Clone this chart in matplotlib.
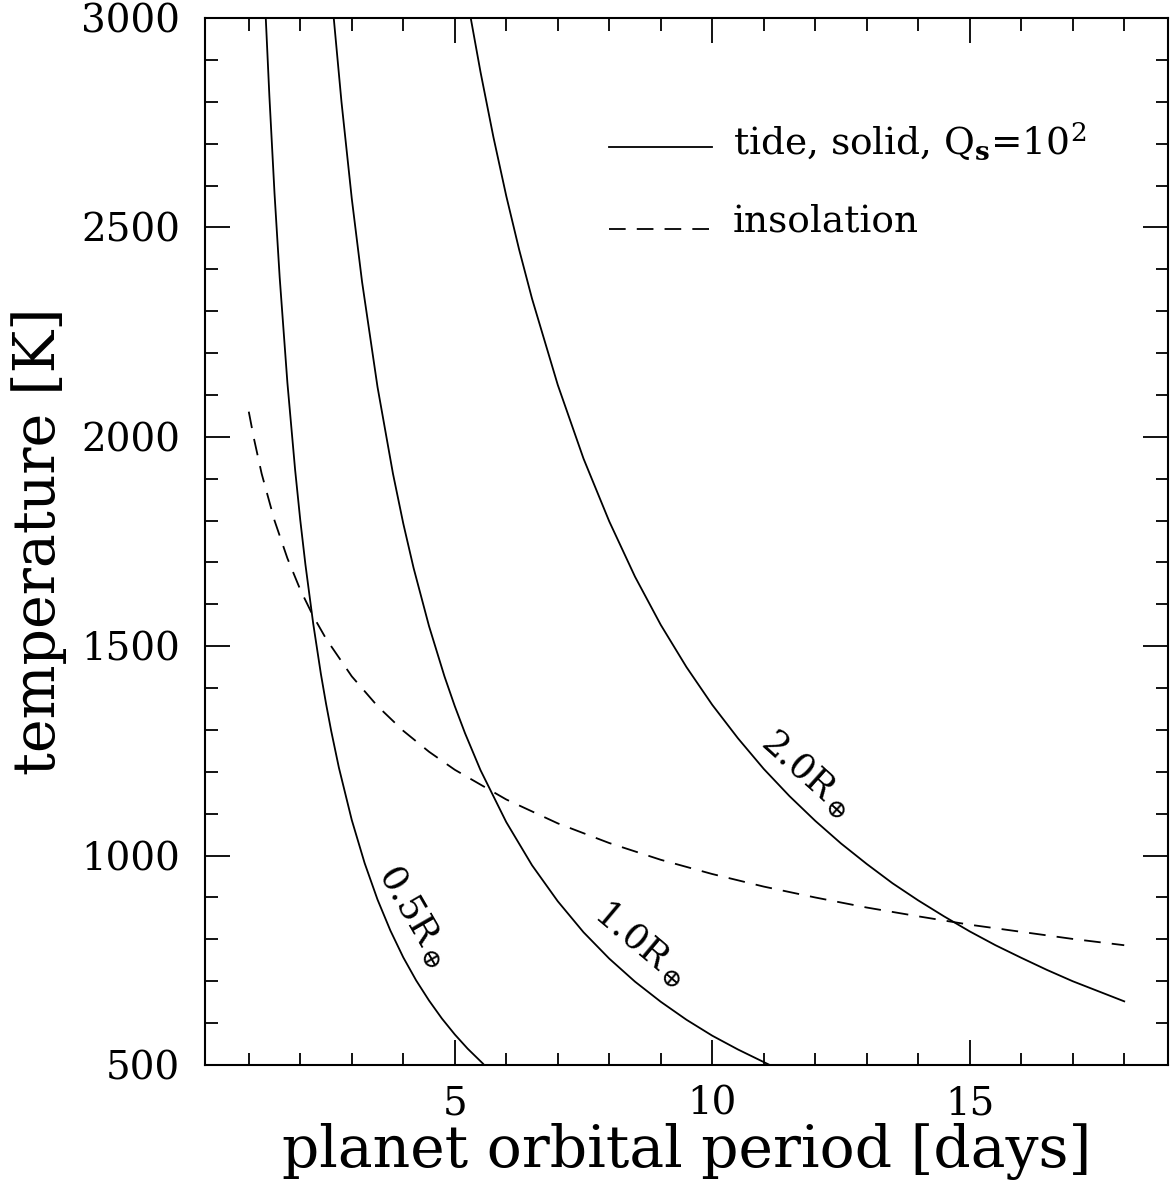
import matplotlib
matplotlib.use("Agg")
import matplotlib.pyplot as plt
from matplotlib.ticker import MultipleLocator

# tide curves (period [days], temperature [K])
p_05 = [1.33, 1.4, 1.5, 1.6, 1.75, 1.9, 2.0, 2.1, 2.25, 2.4, 2.5, 2.6, 2.75, 3.0,
        3.25, 3.5, 3.75, 4.0, 4.25, 4.5, 4.75, 5.0, 5.25, 5.55]
t_05 = [3000, 2814, 2581, 2381, 2129, 1921, 1801, 1695, 1555, 1434, 1363, 1298, 1210, 1085,
        982, 895, 821, 757, 702, 654, 611, 573, 539, 503]

p_10 = [2.65, 2.8, 3.0, 3.2, 3.5, 3.8, 4.0, 4.2, 4.5, 4.8, 5.0, 5.2, 5.5, 6.0,
        6.5, 7.0, 7.5, 8.0, 8.5, 9.0, 9.5, 10.0, 10.5, 11.1]
t_10 = [3000, 2800, 2569, 2370, 2119, 1912, 1793, 1687, 1548, 1428, 1357, 1292, 1204, 1080,
        977, 891, 817, 754, 699, 651, 608, 570, 537, 501]

p_20 = [5.31, 5.5, 5.75, 6.0, 6.25, 6.5, 7.0, 7.5, 8.0, 8.5, 9.0, 9.5, 10.0, 10.5, 11.0,
        11.5, 12.0, 12.5, 13.0, 13.5, 14.0, 14.5, 15.0, 15.5, 16.0, 16.5, 17.0, 17.5, 18.0]
t_20 = [3000, 2871, 2716, 2575, 2447, 2330, 2124, 1948, 1798, 1666, 1551, 1450, 1360, 1280, 1207,
        1142, 1083, 1029, 980, 934, 893, 855, 819, 786, 756, 727, 700, 676, 652]

# insolation curve
p_ins = [1.0, 1.1, 1.25, 1.5, 1.75, 2.0, 2.25, 2.5, 3.0, 3.5, 4.0, 4.5, 5.0, 6.0, 7.0,
         8.0, 9.0, 10.0, 11.0, 12.0, 13.0, 14.0, 15.0, 16.0, 17.0, 18.0]
t_ins = [2060, 1996, 1912, 1800, 1710, 1635, 1572, 1518, 1428, 1357, 1298, 1248, 1205, 1134, 1077,
         1030, 990, 956, 926, 900, 876, 855, 835, 818, 801, 786]

plt.rcParams['font.family'] = ['DejaVu Serif']
plt.rcParams['mathtext.fontset'] = 'dejavuserif'

fig = plt.figure(figsize=(11.7, 11.93), dpi=100)
ax = fig.add_axes([205/1170, 1 - 1065/1193, 963/1170, 1047/1193])

lw = 1.3
dash = (0, (12/lw, 8/lw))
ax.plot(p_05, t_05, color='black', lw=lw)
ax.plot(p_10, t_10, color='black', lw=lw)
ax.plot(p_20, t_20, color='black', lw=lw)
ax.plot(p_ins, t_ins, color='black', lw=lw, linestyle=dash)

# curve labels
lab = dict(fontsize=26, ha='center', va='center', rotation_mode='anchor')
ax.text(4.2, 855, r'0.5R$_\oplus$', rotation=-60, **lab)
ax.text(8.62, 790, r'1.0R$_\oplus$', rotation=-40, **lab)
ax.text(11.83, 1195, r'2.0R$_\oplus$', rotation=-42, **lab)

# legend drawn by hand
ax.plot([8, 10], [2692, 2692], color='black', lw=lw)
ax.plot([8, 10], [2496, 2496], color='black', lw=lw, linestyle=dash)
ax.text(10.4, 2705, r'tide, solid, Q$_\mathbf{s}$=10$^2$', fontsize=27, va='center')
ax.text(10.4, 2515, 'insolation', fontsize=27, va='center')

ax.set_xlim(0.15, 18.85)
ax.set_ylim(500, 3000)
ax.xaxis.set_major_locator(MultipleLocator(5))
ax.xaxis.set_minor_locator(MultipleLocator(1))
ax.yaxis.set_major_locator(MultipleLocator(500))
ax.yaxis.set_minor_locator(MultipleLocator(100))
ax.tick_params(which='both', direction='in', top=True, right=True, width=1.3)
ax.tick_params(which='major', length=18, labelsize=28)
ax.tick_params(axis='y', which='major', pad=18)
ax.tick_params(axis='x', which='major', pad=15)
ax.tick_params(which='minor', length=9)
for s in ax.spines.values():
    s.set_linewidth(1.5)

ax.set_xlabel('planet orbital period [days]', fontsize=42, labelpad=0)
ax.set_ylabel('temperature [K]', fontsize=41, labelpad=10)

fig.savefig('out.png', dpi=100)
